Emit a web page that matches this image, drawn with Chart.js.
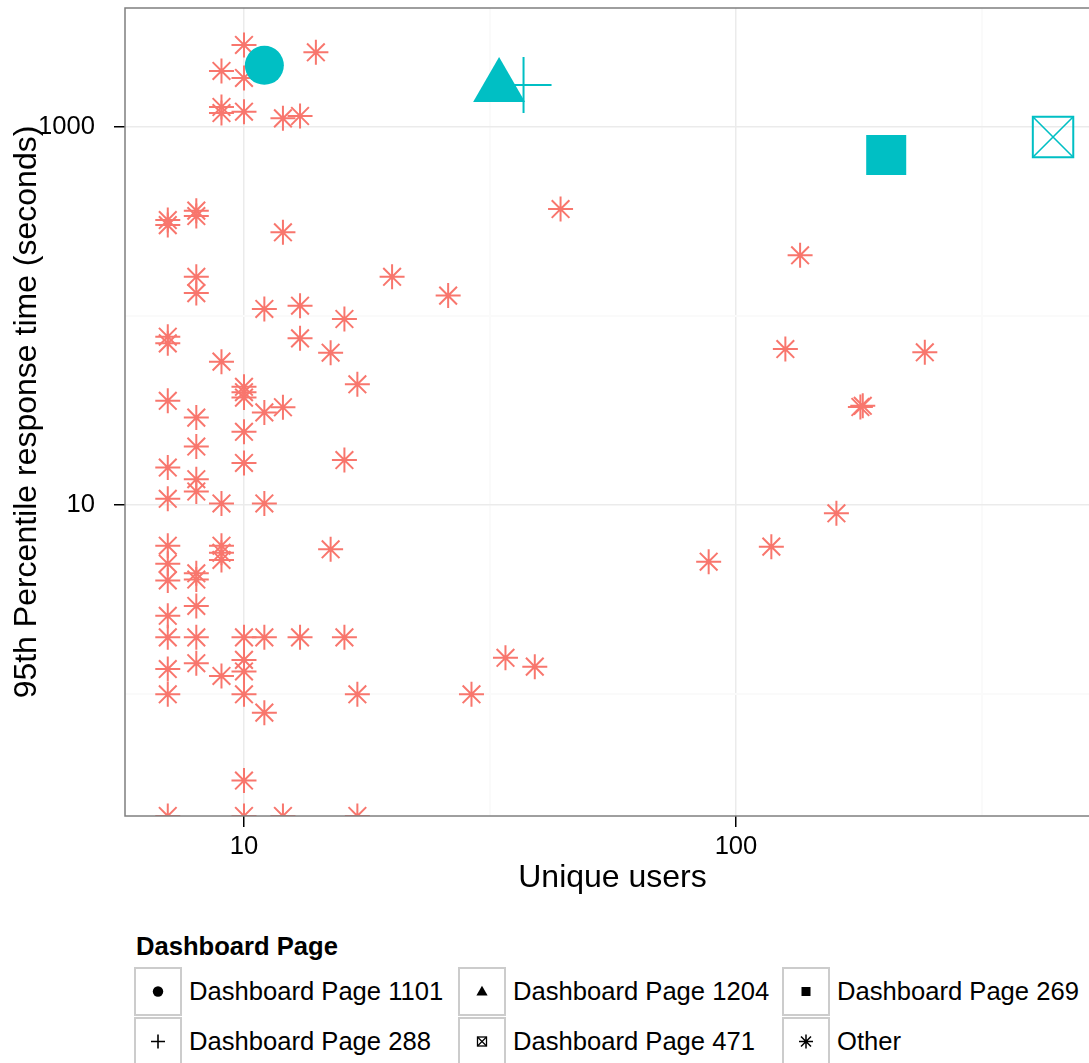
<!DOCTYPE html>
<html>
<head>
<meta charset="utf-8">
<title>Dashboard pages</title>
<script src="https://cdn.jsdelivr.net/npm/chart.js@4"></script>
<style>
  html, body { margin: 0; padding: 0; background: #fff; overflow: hidden; }
  #wrap { position: relative; width: 1089px; height: 1063px; overflow: hidden;
          font-family: "Liberation Sans", Arial, sans-serif; color: #000; }
  #chart { position: absolute; left: 0; top: 0; }
  #legend { position: absolute; left: 134px; top: 926px; }
  #legend .ttl { font-weight: bold; font-size: 25.6px; height: 40px; line-height: 40px; margin-left: 2px; }
  #legend .rows { display: grid; grid-template-columns: 324px 324px 324px; }
  #legend .item { display: flex; align-items: center; height: 50.5px; }
  #legend .key { width: 48px; height: 49px; box-sizing: border-box; border: 2px solid #ccc; background: #fff; }
  #legend .key svg { display: block; width: 44px; height: 45px; }
  #legend .lbl { font-size: 25.6px; margin-left: 7px; white-space: nowrap; }
</style>
</head>
<body>
<div id="wrap">
  <canvas id="chart" width="1100" height="900"></canvas>
  <div id="legend"></div>
</div>
<script>
// --- data (x = unique users, y = 95th percentile response time, seconds) ---
const page1101Users = [11];
const page1101P95 = [2110];
const page1204Users = [33];
const page1204P95 = [1620];
const page269Users = [202];
const page269P95 = [709];
const page288Users = [37];
const page288P95 = [1660];
const page471Users = [441];
const page471P95 = [882];

const otherUsers = [
  7, 7, 7, 7, 7, 7, 7, 7, 7, 7, 7, 7, 7, 7, 7,
  8, 8, 8, 8, 8, 8, 8, 8, 8, 8, 8, 8, 8,
  9, 9, 9, 9, 9, 9, 9, 9, 9,
  10, 10, 10, 10, 10, 10, 10, 10, 10, 10, 10, 10, 10, 10,
  11, 11, 11, 11, 11,
  12, 12, 12, 12,
  13, 13, 13, 13,
  14, 15, 15, 16, 16, 16, 17, 17, 17,
  20, 26, 29, 34, 39, 44, 88, 118, 126, 135, 160, 179, 181, 242
];
const otherP95 = [
  321, 302, 77.6, 71.6, 35.6, 15.8, 10.8, 6.1, 4.9, 4.0, 2.6, 2, 1.36, 1, 0,
  360, 337, 161, 132, 29, 20.4, 13.7, 11.8, 4.36, 4.04, 2.93, 2, 1.46,
  1970, 1271, 1181, 57.3, 10.2, 6.1, 5.6, 5.13, 1.25,
  2703, 1809, 1200, 42.2, 39.5, 37, 24.4, 16.7, 2, 1.52, 1.32, 1, 0.35, 0,
  108.8, 30.9, 10.2, 2, 0.8,
  1107, 276.6, 32.9, 0,
  1139, 113.2, 76.1, 2,
  2474, 63.9, 5.84, 96.3, 17.3, 2, 43.5, 1, 0,
  161, 128, 1, 1.56, 1.4, 367, 5.02, 6.03, 66.8, 209, 9.05, 33, 33.5, 64.2
];

const xTicks = [31.6228, 10, 100, 316.228];
const xLabels = ["", "10", "100", ""];
const yTicks = [1, 10, 100, 1000];
const yLabels = ["", "10", "", "1000"];

const legendTitle = "Dashboard Page";
const legendLabels = ["Dashboard Page 1101", "Dashboard Page 1204", "Dashboard Page 269",
                      "Dashboard Page 288", "Dashboard Page 471", "Other"];

// --- axis ranges & style ---
const X_MIN = 5.730, X_MAX = 549.4;
const Y_MIN = 0.2274, Y_MAX = 4240;
const RED = "#F8766D";
const CYAN = "#00BFC4";
const FONT = "'Liberation Sans', Arial, sans-serif";

// zero response times sit on the panel floor (log10(0) = -Inf, as in ggplot)
function pts(xs, ys) { return xs.map((x, i) => ({ x, y: ys[i] === 0 ? Y_MIN : ys[i] })); }

const datasets = [
  { label: legendLabels[0], data: pts(page1101Users, page1101P95), order: 0,
    pointStyle: "circle", pointRadius: 19.5, pointBackgroundColor: CYAN, pointBorderWidth: 0, pointBorderColor: CYAN },
  { label: legendLabels[1], data: pts(page1204Users, page1204P95), order: 0,
    pointStyle: "triangle", pointRadius: 30, pointBackgroundColor: CYAN, pointBorderWidth: 0, pointBorderColor: CYAN },
  { label: legendLabels[2], data: pts(page269Users, page269P95), order: 0,
    pointStyle: "rect", pointRadius: 28.3, pointBackgroundColor: CYAN, pointBorderWidth: 0, pointBorderColor: CYAN },
  { label: legendLabels[3], data: pts(page288Users, page288P95), order: 0,
    pointStyle: "cross", pointRadius: 28, pointBorderColor: CYAN, pointBorderWidth: 2 },
  { label: legendLabels[4], data: pts(page471Users, page471P95), order: 0,
    pointStyle: "rect", pointRadius: 28.6, pointBackgroundColor: "rgba(0,0,0,0)", pointBorderColor: CYAN, pointBorderWidth: 2 },
  { label: legendLabels[4] + " x", data: pts(page471Users, page471P95), order: 0,
    pointStyle: "crossRot", pointRadius: 28.6, pointBorderColor: CYAN, pointBorderWidth: 1.6 },
  { label: legendLabels[5], data: pts(otherUsers, otherP95), order: 1,
    pointStyle: "star", pointRadius: 12.5, pointBorderColor: RED, pointBorderWidth: 2 }
];

// panel border drawn on top like ggplot's theme_bw
const panelBorder = {
  id: "panelBorder",
  afterDatasetsDraw(chart) {
    const { ctx, chartArea: a } = chart;
    ctx.save();
    ctx.strokeStyle = "#7F7F7F";
    ctx.lineWidth = 1.5;
    ctx.strokeRect(a.left, a.top, a.right - a.left, a.bottom - a.top);
    ctx.restore();
  }
};

function gridOpts(majors) {
  return {
    drawTicks: true,
    tickLength: 11,
    color: c => majors.includes(c.index) ? "#EBEBEB" : "#FAFAFA",
    lineWidth: c => majors.includes(c.index) ? 1.5 : 2,
    tickColor: c => majors.includes(c.index) ? "#000" : "rgba(0,0,0,0)",
    tickWidth: 1.5
  };
}

new Chart(document.getElementById("chart"), {
  type: "scatter",
  data: { datasets },
  options: {
    responsive: false,
    animation: false,
    events: [],
    layout: { autoPadding: false, padding: { top: 8, right: 0, bottom: 0, left: 0 } },
    plugins: { legend: { display: false }, tooltip: { enabled: false } },
    scales: {
      x: {
        type: "logarithmic",
        min: X_MIN, max: X_MAX,
        bounds: "data",
        afterBuildTicks: s => { s.ticks = xTicks.map(v => ({ value: v })); },
        afterFit: s => { s.height = 84; s.paddingLeft = 0; s.paddingRight = 0; },
        ticks: {
          autoSkip: false, maxRotation: 0, padding: 5, color: "#000",
          font: { family: FONT, size: 25.6 },
          callback: (v, i) => xLabels[i]
        },
        grid: gridOpts([1, 2]),
        border: { display: false },
        title: { display: true, text: "Unique users", color: "#000",
                 font: { family: FONT, size: 32, lineHeight: 1 }, padding: { top: 0, bottom: 6 } }
      },
      y: {
        type: "logarithmic",
        min: Y_MIN, max: Y_MAX,
        bounds: "data",
        afterBuildTicks: s => { s.ticks = yTicks.map(v => ({ value: v })); },
        afterFit: s => { s.width = 125; s.paddingTop = 0; s.paddingBottom = 0; },
        ticks: {
          autoSkip: false, padding: 19, color: "#000",
          font: { family: FONT, size: 25.6 },
          callback: (v, i) => yLabels[i]
        },
        grid: gridOpts([1, 3]),
        border: { display: false },
        title: { display: true, text: "95th Percentile response time (seconds)", color: "#000",
                 font: { family: FONT, size: 32, lineHeight: 1 }, padding: { top: 11, bottom: 0 } }
      }
    }
  },
  plugins: [panelBorder]
});

// --- legend (ggplot style, 3 columns, boxed keys) ---
const keySvgs = [
  '<circle cx="22" cy="22.5" r="5.2" fill="#000"/>',
  '<polygon points="22,16.8 27.6,26.5 16.4,26.5" fill="#000"/>',
  '<rect x="17.5" y="18" width="9" height="9" fill="#000"/>',
  '<path d="M15 22.5H29M22 15.5V29.5" stroke="#000" stroke-width="1.6" fill="none"/>',
  '<rect x="17.5" y="18" width="9" height="9" fill="none" stroke="#000" stroke-width="1.3"/>' +
    '<path d="M17.5 18L26.5 27M26.5 18L17.5 27" stroke="#000" stroke-width="1.2"/>',
  '<path d="M15 22.5H29M22 15.5V29.5M17 17.5L27 27.5M27 17.5L17 27.5" stroke="#000" stroke-width="1.5" fill="none"/>'
];

const legend = document.getElementById("legend");
let html = '<div class="ttl">' + legendTitle + '</div><div class="rows">';
legendLabels.forEach((lbl, i) => {
  html += '<div class="item"><div class="key"><svg viewBox="0 0 44 45">' + keySvgs[i] +
          '</svg></div><span class="lbl">' + lbl + '</span></div>';
});
html += '</div>';
legend.innerHTML = html;
</script>
</body>
</html>
